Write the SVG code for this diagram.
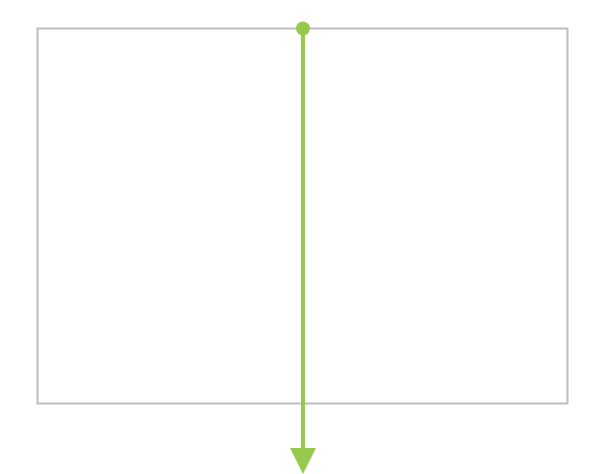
<svg xmlns="http://www.w3.org/2000/svg" width="612" height="474" viewBox="0 0 612 474">
<style>
.frame{fill:none;stroke:#bdbdbd;stroke-width:2}
.conn{stroke:#98c94f;stroke-width:4;fill:none}
</style>
<defs>
<marker id="arr" markerUnits="userSpaceOnUse" markerWidth="26" markerHeight="26" refX="0" refY="12" orient="auto" viewBox="0 0 24 24">
<path d="M0,0 L24,12 L0,24 Z" fill="#98c94f"/>
</marker>
</defs>
<rect width="612" height="474" fill="#ffffff"/>
<g id="frame">
<rect class="frame" x="37.5" y="28.5" width="530" height="375"/>
</g>
<g id="connectors">
<line class="conn" x1="303" y1="29" x2="303" y2="448" marker-end="url(#arr)"/>
<circle cx="303" cy="28.5" r="7" fill="#98c94f"/>
</g>
</svg>
